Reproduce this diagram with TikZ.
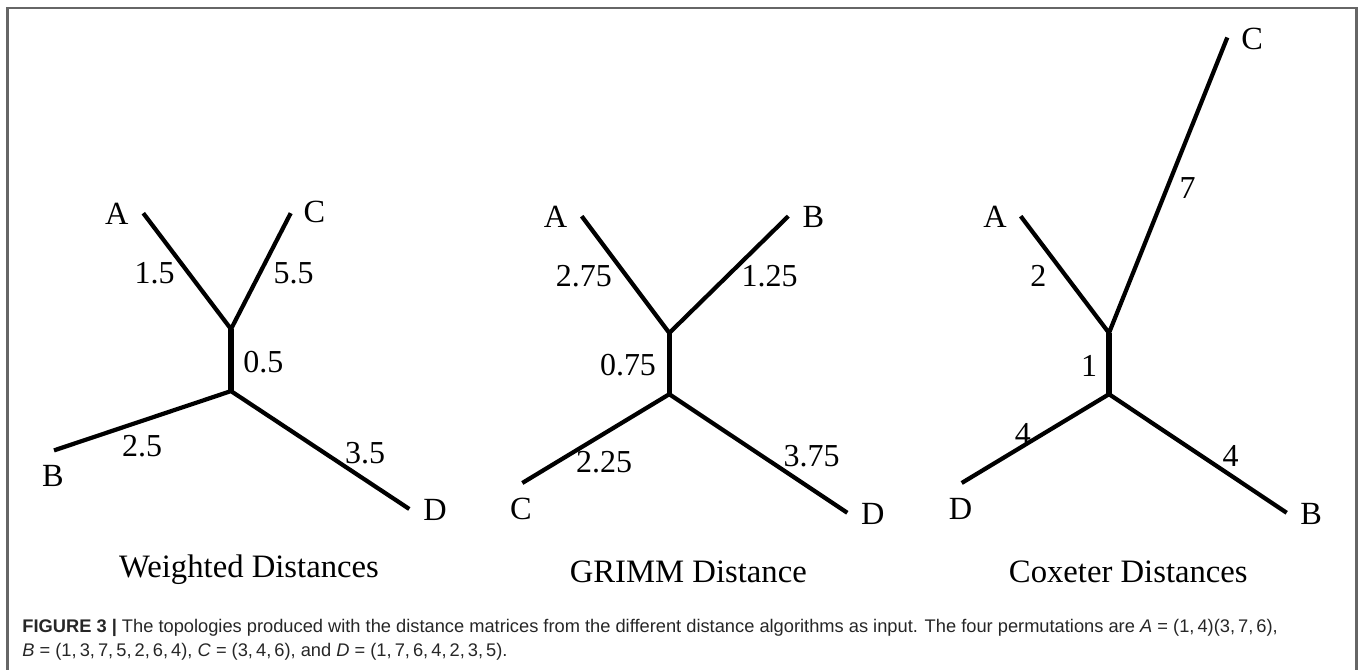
\documentclass[tikz,border=0pt]{standalone}
\usepackage{fontspec}
\setmainfont{Liberation Serif}
\newfontfamily\capfont{Liberation Sans}
\usetikzlibrary{positioning}

\begin{document}
\begin{tikzpicture}[
  x=0.1mm, y=-0.1mm,
  leaf/.style={inner sep=0pt, font=\fontsize{9.2}{11}\selectfont},
  wt/.style={inner sep=0pt, font=\fontsize{9.1}{11}\selectfont},
  title/.style={inner sep=0pt, anchor=base, font=\fontsize{9.3}{11}\selectfont},
  edge/.style={line width=1.2pt},
  stem/.style={line width=1.5pt},
  capline/.style={inner sep=0pt, anchor=base west, text=black!85, font=\capfont\fontsize{5.2}{6.8}\selectfont},
  frame/.style={draw=black!60, line width=0.6pt}
]
\useasboundingbox (0,0) rectangle (1358,670);
\draw[frame] (7.5,670) -- (7.5,8) -- (1356.5,8) -- (1356.5,670);

\coordinate (wA) at (143.3,213.2);
\coordinate (wC) at (290.7,213.2);
\coordinate (wB) at (54,450.4);
\coordinate (wD) at (409.3,509);
\coordinate (wJ) at (231,329.1);
\coordinate (wK) at (231,391.1);
\draw[edge] (wA) -- (wJ) -- (wC);
\draw[stem] (wJ) -- (wK);
\draw[edge] (wB) -- (wK) -- (wD);
\node[leaf] (wAlab) at (116.7,213.5) {A};
\node[leaf] (wClab) at (314.5,212) {C};
\node[leaf] (wBlab) at (53,475.7) {B};
\node[leaf] (wDlab) at (435,510) {D};
\node[wt] (wAw) at (154.7,273.6) {1.5};
\node[wt] (wCw) at (293.7,273.6) {5.5};
\node[wt] (wJw) at (263.3,362) {0.5};
\node[wt] (wBw) at (142,445.9) {2.5};
\node[wt] (wDw) at (365,453) {3.5};
\node[title] (wtitle) at (249,578) {Weighted Distances};

\coordinate (gA) at (581.7,216.2);
\coordinate (gB) at (788.3,216.2);
\coordinate (gC) at (522.3,483);
\coordinate (gD) at (847.3,512.8);
\coordinate (gJ) at (669.3,333);
\coordinate (gK) at (669.3,394.2);
\draw[edge] (gA) -- (gJ) -- (gB);
\draw[stem] (gJ) -- (gK);
\draw[edge] (gC) -- (gK) -- (gD);
\node[leaf] (gAlab) at (555.5,217) {A};
\node[leaf] (gBlab) at (813.3,217) {B};
\node[leaf] (gClab) at (520.8,509) {C};
\node[leaf] (gDlab) at (872.7,514) {D};
\node[wt] (gAw) at (583.8,276.3) {2.75};
\node[wt] (gBw) at (769.7,276.3) {1.25};
\node[wt] (gJw) at (628,365.5) {0.75};
\node[wt] (gCw) at (604.2,462.3) {2.25};
\node[wt] (gDw) at (811.7,456.5) {3.75};
\node[title] (gtitle) at (688.3,583) {GRIMM Distance};

\coordinate (xC) at (1227.3,37.5);
\coordinate (xA) at (1020.7,216.2);
\coordinate (xD) at (961.7,483);
\coordinate (xB) at (1286.7,512.8);
\coordinate (xJ) at (1109,333);
\coordinate (xK) at (1109,394.2);
\draw[edge] (xA) -- (xJ) -- (xC);
\draw[stem] (xJ) -- (xK);
\draw[edge] (xD) -- (xK) -- (xB);
\node[leaf] (xClab) at (1252.2,39) {C};
\node[leaf] (xAlab) at (995,217) {A};
\node[leaf] (xDlab) at (960.5,509) {D};
\node[leaf] (xBlab) at (1311.2,514) {B};
\node[wt] (xCw) at (1187.5,187.9) {7};
\node[wt] (xAw) at (1038.3,276.3) {2};
\node[wt] (xJw) at (1089.2,365.9) {1};
\node[wt] (xDw) at (1022.8,434) {4};
\node[wt] (xBw) at (1230.5,455.8) {4};
\node[title] (xtitle) at (1128.3,583) {Coxeter Distances};

\node[capline] (cap1) at (21.7,633) {{\bfseries FIGURE 3 |} The topologies produced with the distance matrices from the different distance algorithms as input. The four permutations are \textit{A} = (1,\,4)(3,\,7,\,6),};
\node[capline] (cap2) at (21.7,657) {\textit{B} = (1,\,3,\,7,\,5,\,2,\,6,\,4), \textit{C} = (3,\,4,\,6), and \textit{D} = (1,\,7,\,6,\,4,\,2,\,3,\,5).};
\end{tikzpicture}
\end{document}
